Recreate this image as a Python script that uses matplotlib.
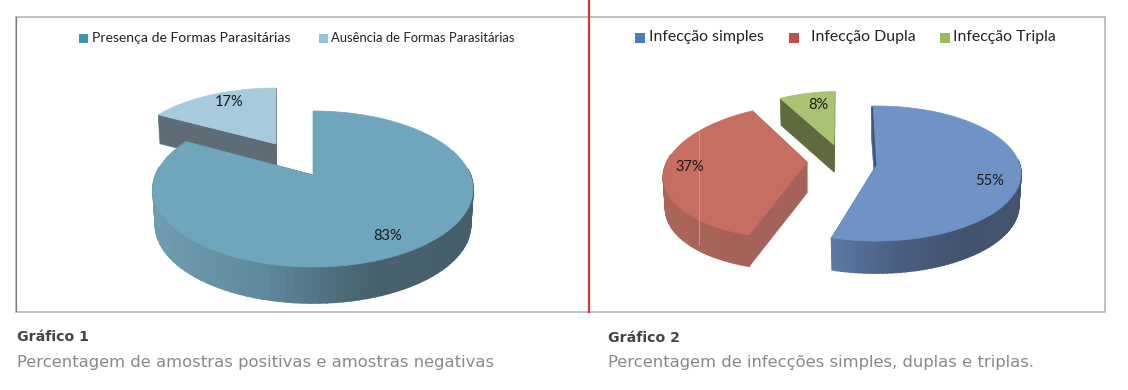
# -*- coding: utf-8 -*-
# Two 3D looking exploded pies with captions underneath

import numpy as np
import matplotlib
matplotlib.use('Agg')
import matplotlib.pyplot as plt
from matplotlib.patches import Polygon, Rectangle
from matplotlib.colors import LinearSegmentedColormap

# Data
labels_left = ['Presença de Formas Parasitárias', 'Ausência de Formas Parasitárias']
values_left = [83, 17]
labels_right = ['Infecção simples', 'Infecção Dupla', 'Infecção Tripla']
values_right = [55, 37, 8]
captions = ['Gráfico 1', 'Gráfico 2']
subtitles = ['Percentagem de amostras positivas e amostras negativas',
             'Percentagem de infecções simples, duplas e triplas.']

fig = plt.figure(figsize=(11.28, 3.9), dpi=100)
ax = fig.add_axes([0, 0, 1, 1])
ax.set_xlim(0, 1128)
ax.set_ylim(390, 0)
ax.axis('off')


# angle is clockwise from the top, the far side of the disc comes out smaller
def project(angle, s):
    t = np.radians(angle)
    u = np.sin(t)
    v = np.cos(t)
    w = 1 / (1 + s['k'] * v)
    return s['ax'] + (s['a'] * u + s['c'] * v) * w, s['ay'] - s['b'] * v * w


def base(s):
    b = dict(s)
    b['a'] = s['a'] * 0.985
    b['ay'] = s['ay'] + s['depth']
    return b


def draw_slice(start, end, s):
    angles = np.linspace(start, end, 120)
    x, y = project(angles, s)
    xb, yb = project(angles, base(s))

    # walls along the two cut edges
    for i in [0, -1]:
        wall = [(s['ax'], s['ay']), (x[i], y[i]), (xb[i], yb[i]), (s['ax'], s['ay'] + s['depth'])]
        ax.add_patch(Polygon(wall, closed=True, fc=s['cut'], ec=s['cut'], lw=0.5))

    # outer wall, shaded from left to right, the far side is hidden anyway
    cmap = LinearSegmentedColormap.from_list('wall', s['wall'])
    x_min, x_max = s['range']
    for i in range(len(angles) - 1):
        if np.cos(np.radians(angles[i])) > 0.1:
            continue
        c = cmap((0.5 * (x[i] + x[i + 1]) - x_min) / (x_max - x_min))
        quad = [(x[i], y[i]), (x[i + 1], y[i + 1]), (xb[i + 1], yb[i + 1]), (xb[i], yb[i])]
        ax.add_patch(Polygon(quad, closed=True, fc=c, ec=c, lw=1.2))

    # top face
    top = [(s['ax'], s['ay'])] + list(zip(x, y))
    ax.add_patch(Polygon(top, closed=True, fc=s['top'], ec=s['top'], lw=0.5))


def draw_pie(values, slices, first=0):
    angle = first
    for v, s in zip(values, slices):
        s['span'] = (angle, angle + v * 3.6)
        angle += v * 3.6
    for s in sorted(slices, key=lambda q: q['order']):
        draw_slice(s['span'][0], s['span'][1], s)


main = dict(order=2, ax=313, ay=175, a=157.4, b=75.5, c=0, k=0.1795, depth=36,
            top='#6fa6bd', cut='#4d6a79', range=(158, 470),
            wall=['#6f9cb1', '#5f899d', '#486270', '#445e6b'])
absent = dict(order=1, ax=276, ay=144, a=146, b=66, c=0, k=0.1795, depth=29,
              top='#a7cbdc', cut='#5e6c76', range=(158, 280),
              wall=['#5e6c76', '#5e6c76'])
draw_pie(values_left, [main, absent])

blue = dict(order=1, ax=876, ay=166, a=144, b=66.7, c=0, k=0.111, depth=32,
            top='#7093c7', cut='#4a5f80', range=(832, 1020),
            wall=['#5c78a3', '#4a5f82', '#43536f', '#43546f'])
red = dict(order=2, ax=807, ay=162, a=140, b=66.3, c=12.7, k=0.133, depth=31,
           top='#c76e62', cut='#a5625a', range=(665, 810),
           wall=['#ab6659', '#a66155', '#a66155'])
green = dict(order=3, ax=834, ay=145, a=125, b=60, c=5.4, k=0.12, depth=27,
             top='#a9c274', cut='#5f6b3e', range=(780, 835),
             wall=['#5f6b3e', '#5f6b3e'])
draw_pie(values_right, [blue, red, green], first=-2)

# small details on the faces
ax.plot([872, 875.5], [107, 166], color='#3f5273', lw=1.2, solid_capstyle='butt')
ax.plot([699, 699], [130, 245], color='#d99a90', lw=0.6)

# Percent labels
label_font = dict(family='Lato', fontsize=10.5, color='#1a1a1a', ha='center', va='center')
for v, x, y in zip(values_left, [388, 229], [236, 102]):
    ax.text(x, y, str(v) + '%', **label_font)
for v, x, y in zip(values_right, [990, 690, 818], [181, 167, 105]):
    ax.text(x, y, str(v) + '%', **label_font)

# Legends
left_boxes = [79, 319]
left_text = [92, 331]
left_sizes = [10.1, 9.4]
left_colors = ['#3c96ad', '#93c3d8']
for i in range(2):
    ax.add_patch(Rectangle((left_boxes[i], 34), 9, 9, fc=left_colors[i], ec='none'))
    ax.text(left_text[i], 38.5, labels_left[i], family='Lato', fontsize=left_sizes[i],
            color='#222222', va='center')

right_boxes = [635, 789, 940]
right_text = [649, 811, 953]
right_colors = ['#4a7ebb', '#c0504d', '#9bbb59']
for i in range(3):
    ax.add_patch(Rectangle((right_boxes[i], 33), 10, 10, fc=right_colors[i], ec='none'))
    ax.text(right_text[i], 37.5, labels_right[i], family='Lato', fontsize=11.4,
            color='#222222', va='center')

# Frames and the red divider
ax.add_patch(Rectangle((16, 17), 573, 294.5, fc='none', ec='#b5b5b5', lw=1.2))
ax.add_patch(Rectangle((589, 17), 516, 295, fc='none', ec='#b5b5b5', lw=1.2))
ax.plot([16, 16], [17, 311], color='#777777', lw=0.8)
ax.plot([589, 589], [0, 312], color='#d8343c', lw=1.6)

# Captions
cap_x = [17, 608]
cap_y = [337, 338]
sub_y = [362, 363]
for i in range(2):
    ax.text(cap_x[i], cap_y[i], captions[i], family='DejaVu Sans', fontsize=10.2,
            fontweight='bold', color='#444444', va='center')
    ax.text(cap_x[i], sub_y[i], subtitles[i], family='DejaVu Sans', fontsize=11.8,
            color='#888888', va='center')

plt.savefig('out.png', dpi=100)
